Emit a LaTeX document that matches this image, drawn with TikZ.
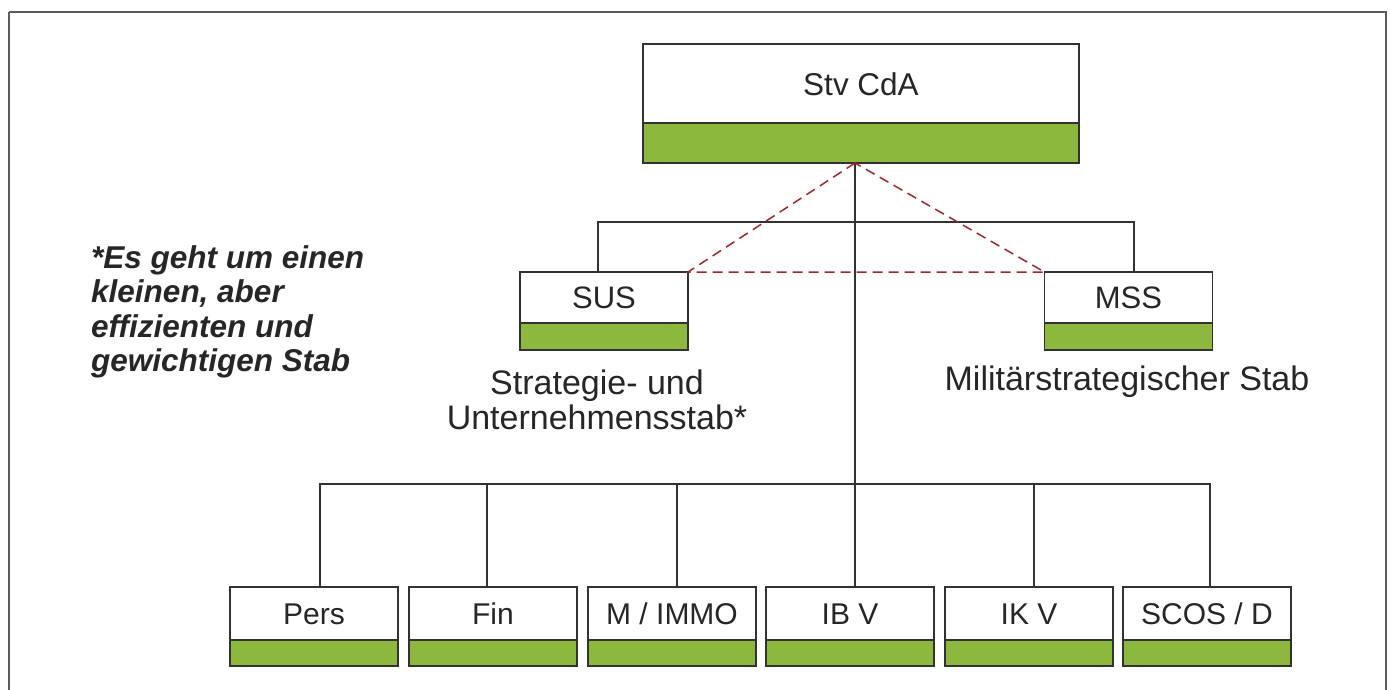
\documentclass[tikz,border=0pt]{standalone}
\usepackage{fontspec}
\setmainfont{Liberation Sans}
\usetikzlibrary{calc}
\definecolor{boxgreen}{RGB}{141,184,62}
\definecolor{linegray}{RGB}{50,50,50}
\definecolor{dashred}{RGB}{165,35,45}
\tikzset{
  orgbox/.style n args={3}{draw=linegray, line width=1.5pt, fill=white,
    minimum width=#1, minimum height=#2, inner sep=0pt, outer sep=0pt,
    path picture={
      \fill[boxgreen] (path picture bounding box.south west) rectangle ([yshift=#3]path picture bounding box.south east);
      \draw[linegray, line width=1.5pt] ([yshift=#3]path picture bounding box.south west) -- ([yshift=#3]path picture bounding box.south east);}},
  bigbox/.style={orgbox={436pt}{119pt}{40pt}},
  midbox/.style={orgbox={168pt}{78pt}{27pt}},
  lowbox/.style={orgbox={168pt}{79pt}{26pt}},
  boxtext/.style={inner sep=0pt, font=\fontsize{30}{33}\selectfont, text=black!85},
  midtext/.style={inner sep=0pt, font=\fontsize{31}{34}\selectfont, text=black!85},
  toptext/.style={inner sep=0pt, font=\fontsize{31.5}{34}\selectfont, text=black!85},
  lbltext/.style={inner sep=0pt, align=center, font=\fontsize{34}{35}\selectfont, text=black!85},
  notetext/.style={inner sep=0pt, align=left, font=\fontsize{31.5}{34.5}\selectfont\bfseries\itshape, text=black!85},
  conn/.style={draw=linegray, line width=1.5pt},
  relation/.style={draw=dashred, line width=1.5pt, dash pattern=on 10pt off 6pt},
  frame/.style={draw=linegray!80, line width=1.8pt}
}
\begin{document}
\begin{tikzpicture}[x=1pt, y=-1pt]
\useasboundingbox (0,0) rectangle (1390,689);
\fill[white] (0,0) rectangle (1390,689);
\draw[frame] (9,12) -- (1386,12) -- (1386,700) (9,700) -- (9,12);

% boxes
\node[bigbox] (top) at (861,103.5) {};
\node[toptext] (toplbl) at (861,84) {Stv CdA};

\node[midbox] (sus) at (604,311) {};
\node[midtext] (suslbl) at (604,298) {SUS};
\node[midbox] (mss) at (1128.5,311) {};
\node[midtext] (msslbl) at (1128.5,298) {MSS};

\node[lbltext] (susdesc) at (597,400) {Strategie- und\\Unternehmensstab*};
\node[lbltext] (mssdesc) at (1127,382) {Militärstrategischer Stab};

\node[notetext, anchor=west] (note) at (91,312) {*Es geht um einen\\kleinen, aber\\effizienten und\\gewichtigen Stab};

\node[lowbox] (pers) at (314,626.5) {};
\node[boxtext] (perslbl) at (314,614) {Pers};
\node[lowbox] (fin) at (493,626.5) {};
\node[boxtext] (finlbl) at (493,614) {Fin};
\node[lowbox] (mimmo) at (672,626.5) {};
\node[boxtext] (mimmolbl) at (672,614) {M / IMMO};
\node[lowbox] (ibv) at (850,626.5) {};
\node[boxtext] (ibvlbl) at (850,614) {IB V};
\node[lowbox] (ikv) at (1029,626.5) {};
\node[boxtext] (ikvlbl) at (1029,614) {IK V};
\node[lowbox] (scos) at (1207,626.5) {};
\node[boxtext] (scoslbl) at (1207,614) {SCOS / D};

% connectors
\coordinate (hub) at (855,163);
\coordinate (barL) at (598,222);
\coordinate (barR) at (1134,222);
\coordinate (barB) at (0,484);

\draw[conn] (hub) -- (hub |- ibv.north);
\draw[conn] (barL |- sus.north) -- (barL) -- (barR) -- (barR |- mss.north);
\draw[conn] ([xshift=6pt]pers.north) -- ([xshift=6pt]pers.north |- barB) -- ([xshift=3pt]scos.north |- barB) -- ([xshift=3pt]scos.north);
\draw[conn] ([xshift=-6pt]fin.north) -- ([xshift=-6pt]fin.north |- barB);
\draw[conn] ([xshift=5pt]mimmo.north) -- ([xshift=5pt]mimmo.north |- barB);
\draw[conn] ([xshift=5pt]ikv.north) -- ([xshift=5pt]ikv.north |- barB);

\draw[relation] (hub) -- (sus.north east) -- (mss.north west) -- cycle;
\end{tikzpicture}
\end{document}
